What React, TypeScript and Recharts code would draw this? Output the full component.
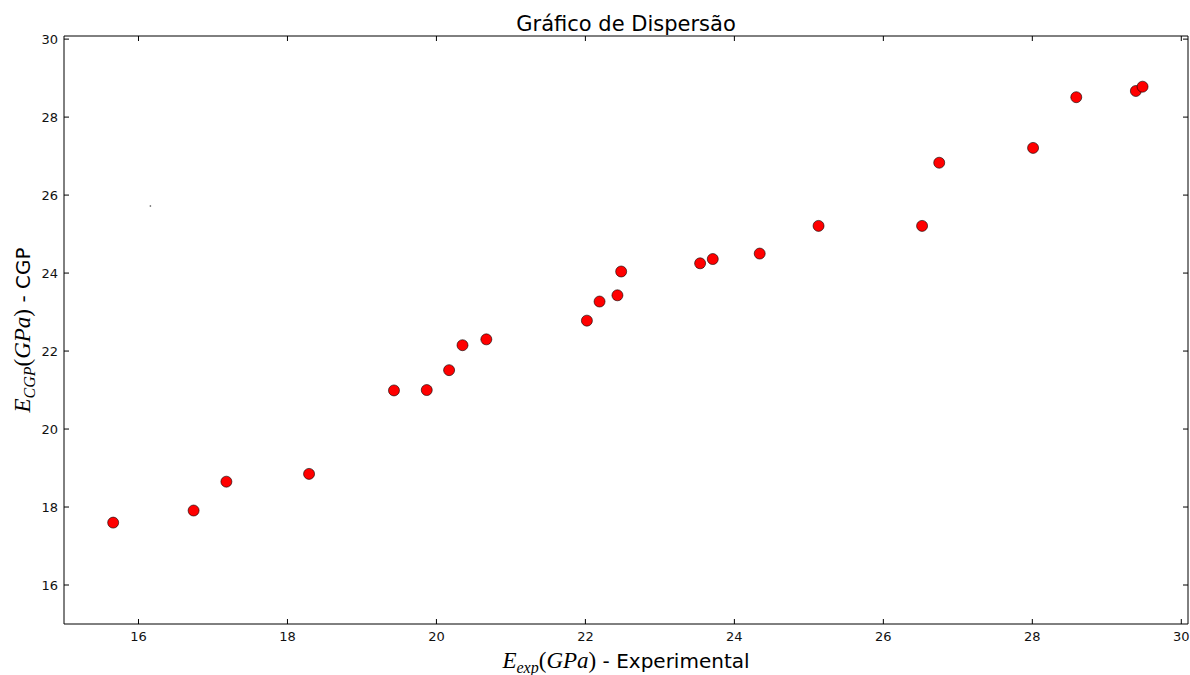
import React from "react"
import { ScatterChart, Scatter, XAxis, YAxis } from "recharts"

// valores (GPa)
const expValues = [
  15.66, 16.74, 17.18, 18.29, 19.43, 19.87, 20.17, 20.35, 20.67, 22.02, 22.19, 22.43,
  22.48, 23.54, 23.71, 24.34, 25.13, 26.52, 26.75, 28.01, 28.59, 29.39, 29.48,
]
const cgpValues = [
  17.6, 17.91, 18.65, 18.85, 20.99, 21.0, 21.51, 22.15, 22.3, 22.78, 23.27, 23.43,
  24.04, 24.25, 24.36, 24.5, 25.21, 25.21, 26.83, 27.21, 28.51, 28.67, 28.78,
]
// ponto perdido minúsculo no canto superior esquerdo
const strayX = [16.16]
const strayY = [25.72]

const xTicks = [16, 18, 20, 22, 24, 26, 28, 30]
const yTicks = [16, 18, 20, 22, 24, 26, 28, 30]

const points = expValues.map((x, i) => ({ x, y: cgpValues[i] }))
const strayPoints = strayX.map((x, i) => ({ x, y: strayY[i] }))

const FONT = "'DejaVu Sans', sans-serif"
const MATH = "'Liberation Serif', 'DejaVu Serif', serif"
const TICK = 5

function BottomTick({ x, y, payload }: any) {
  return (
    <g>
      <line x1={x} x2={x} y1={y} y2={y - TICK} stroke="#000" />
      <text x={x} y={y + 17} textAnchor="middle" fontSize={13} fontFamily={FONT} fill="#111">
        {payload.value}
      </text>
    </g>
  )
}

function TopTick({ x, y }: any) {
  return <line x1={x} x2={x} y1={y} y2={y + TICK} stroke="#000" />
}

function LeftTick({ x, y, payload }: any) {
  return (
    <g>
      <line x1={x} x2={x + TICK} y1={y} y2={y} stroke="#000" />
      <text x={x - 6} y={y} dy="0.36em" textAnchor="end" fontSize={13} fontFamily={FONT} fill="#111">
        {payload.value}
      </text>
    </g>
  )
}

function RightTick({ x, y }: any) {
  return <line x1={x} x2={x - TICK} y1={y} y2={y} stroke="#000" />
}

function Dot({ cx, cy }: any) {
  return <circle cx={cx} cy={cy} r={5.5} fill="#ff0000" stroke="#000" strokeWidth={0.6} />
}

function TinyDot({ cx, cy }: any) {
  return <rect x={cx - 0.7} y={cy - 0.7} width={1.4} height={1.4} fill="#555" />
}

// série fantasma só para que os eixos de cima/direita sejam desenhados
function NoDot() {
  return <g />
}

function TitleLabel({ viewBox }: any) {
  const cx = viewBox.x + viewBox.width / 2
  return (
    <text x={cx} y={31} textAnchor="middle" fontSize={21} fontFamily={FONT} fill="#000">
      Gráfico de Dispersão
    </text>
  )
}

function XLabel({ viewBox }: any) {
  const cx = viewBox.x + viewBox.width / 2
  return (
    <text x={cx} y={668} textAnchor="middle" fill="#000">
      <tspan fontFamily={MATH} fontStyle="italic" fontSize={23}>E</tspan>
      <tspan fontFamily={MATH} fontStyle="italic" fontSize={16} dy={5}>exp</tspan>
      <tspan fontFamily={MATH} fontSize={23} dy={-5}>(</tspan>
      <tspan fontFamily={MATH} fontStyle="italic" fontSize={23}>GPa</tspan>
      <tspan fontFamily={MATH} fontSize={23}>)</tspan>
      <tspan fontFamily={FONT} fontSize={20}> - Experimental</tspan>
    </text>
  )
}

function YLabel({ viewBox }: any) {
  const cy = viewBox.y + viewBox.height / 2
  const bx = 30
  return (
    <text x={bx} y={cy} textAnchor="middle" fill="#000" transform={`rotate(-90, ${bx}, ${cy})`}>
      <tspan fontFamily={MATH} fontStyle="italic" fontSize={23}>E</tspan>
      <tspan fontFamily={MATH} fontStyle="italic" fontSize={16} dy={5}>CGP</tspan>
      <tspan fontFamily={MATH} fontSize={23} dy={-5}>(</tspan>
      <tspan fontFamily={MATH} fontStyle="italic" fontSize={23}>GPa</tspan>
      <tspan fontFamily={MATH} fontSize={23}>)</tspan>
      <tspan fontFamily={FONT} fontSize={20}> - CGP</tspan>
    </text>
  )
}

export default function App() {
  return (
    <div style={{ position: "absolute", left: 0, top: 0, width: 1190, height: 675, background: "#fff" }}>
      <ScatterChart width={1190} height={675} margin={{ top: 35, right: 0, bottom: 0, left: 0 }}>
        <XAxis
          xAxisId="bottom" dataKey="x" type="number" domain={[15, 30.09]} ticks={xTicks}
          allowDataOverflow height={51} tickSize={0} tickMargin={0} tickLine={false}
          axisLine={{ stroke: "#000" }} tick={<BottomTick />} label={<XLabel />}
        />
        <XAxis
          xAxisId="top" orientation="top" dataKey="x" type="number" domain={[15, 30.09]} ticks={xTicks}
          allowDataOverflow height={1} tickSize={0} tickMargin={0} tickLine={false}
          axisLine={{ stroke: "#000" }} tick={<TopTick />} label={<TitleLabel />}
        />
        <YAxis
          yAxisId="left" dataKey="y" type="number" domain={[15, 30.08]} ticks={yTicks}
          allowDataOverflow width={64} tickSize={0} tickMargin={0} tickLine={false}
          axisLine={{ stroke: "#000" }} tick={<LeftTick />} label={<YLabel />}
        />
        <YAxis
          yAxisId="right" orientation="right" dataKey="y" type="number" domain={[15, 30.08]} ticks={yTicks}
          allowDataOverflow width={2} tickSize={0} tickMargin={0} tickLine={false}
          axisLine={{ stroke: "#000" }} tick={<RightTick />}
        />
        <Scatter
          xAxisId="top" yAxisId="right" data={points} shape={<NoDot />}
          isAnimationActive={false} legendType="none"
        />
        <Scatter
          xAxisId="bottom" yAxisId="left" data={strayPoints} shape={<TinyDot />}
          isAnimationActive={false}
        />
        <Scatter
          xAxisId="bottom" yAxisId="left" data={points} shape={<Dot />}
          isAnimationActive={false}
        />
      </ScatterChart>
    </div>
  )
}
